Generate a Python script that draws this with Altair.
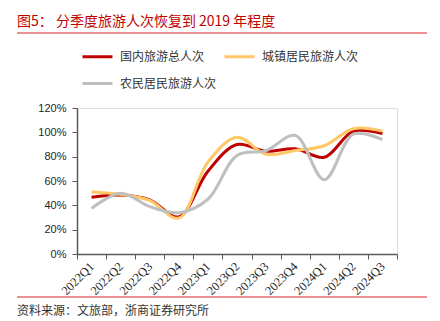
import altair as alt
import pandas as pd

quarters = ["2022Q1", "2022Q2", "2022Q3", "2022Q4", "2023Q1", "2023Q2",
            "2023Q3", "2023Q4", "2024Q1", "2024Q2", "2024Q3"]
series_names = ["国内旅游总人次", "城镇居民旅游人次", "农民居民旅游人次"]
total = [46.6, 48.5, 44.5, 30.5, 68.0, 90.0, 84.5, 86.5, 79.5, 101.0, 99.0]
urban = [51.0, 49.0, 44.0, 29.5, 75.5, 96.0, 82.0, 85.0, 89.0, 103.0, 101.0]
rural = [37.5, 50.0, 39.0, 34.0, 45.0, 81.0, 85.0, 97.5, 61.0, 98.5, 94.0]
colors = ["#C00000", "#FFC766", "#BFBFBF"]

title_text = "图5：  分季度旅游人次恢复到 2019 年程度"
source_text = "资料来源：文旅部，浙商证券研究所"

rows = []
for name, vals in zip(series_names, [total, urban, rural]):
    for q, v in zip(quarters, vals):
        rows.append({"季度": q, "系列": name, "值": v / 100})
df = pd.DataFrame(rows)

CJK = "Noto Sans CJK SC"

lines = alt.Chart(df).mark_line(
    interpolate="catmull-rom", strokeWidth=3
).encode(
    x=alt.X("季度:O", sort=quarters, bandPosition=0.5,
            scale=alt.Scale(type="band", paddingInner=0, paddingOuter=0),
            axis=alt.Axis(title=None, labelAngle=-45, labelAlign="right",
                          labelBaseline="middle", tickBand="extent",
                          labelFont="Liberation Serif", labelFontSize=12.5,
                          labelColor="#262626", labelPadding=5,
                          domainColor="#595959", tickColor="#595959",
                          tickSize=5, domainWidth=1.5, grid=False)),
    y=alt.Y("值:Q", scale=alt.Scale(domain=[0, 1.2], nice=False),
            axis=alt.Axis(title=None, format=".0%",
                          values=[0, 0.2, 0.4, 0.6, 0.8, 1.0, 1.2],
                          labelFont="Liberation Sans", labelFontSize=11,
                          labelColor="#262626", labelPadding=6,
                          domainColor="#595959", tickColor="#595959",
                          tickSize=5, domainWidth=1.5, grid=False)),
    color=alt.Color("系列:N", sort=series_names,
                    scale=alt.Scale(domain=series_names, range=colors),
                    legend=alt.Legend(title=None, orient="none",
                                      direction="horizontal",
                                      legendX=4, legendY=-68, columns=2,
                                      symbolType="stroke", symbolStrokeWidth=3,
                                      symbolSize=900, labelFont=CJK,
                                      labelFontSize=12, labelColor="#333333",
                                      rowPadding=4, columnPadding=1,
                                      labelOffset=6)),
)

title = alt.Chart(pd.DataFrame({"t": [title_text]})).mark_text(
    align="left", baseline="middle", font=CJK, fontSize=14, color="#C00000"
).encode(text="t:N", x=alt.value(-60), y=alt.value(-86))

header = alt.Chart(pd.DataFrame({"a": [0]})).mark_rule(
    color="#D9202A", strokeWidth=1
).encode(x=alt.value(-60), x2=alt.value(350), y=alt.value(-75))

footer = alt.Chart(pd.DataFrame({"a": [0]})).mark_rule(
    color="#D9202A", strokeWidth=1
).encode(x=alt.value(-60), x2=alt.value(350), y=alt.value(189))

source = alt.Chart(pd.DataFrame({"t": [source_text]})).mark_text(
    align="left", baseline="middle", font=CJK, fontSize=12, color="#333333"
).encode(text="t:N", x=alt.value(-60), y=alt.value(203))

chart = alt.layer(lines, title, header, footer, source).properties(
    width=320, height=146,
    autosize=alt.AutoSizeParams(type="none"),
    padding={"left": 77, "top": 108, "right": 43, "bottom": 67},
).configure_view(stroke=None).configure(background="white")

chart.save("out.html", embed_options={"renderer": "svg", "actions": False})
